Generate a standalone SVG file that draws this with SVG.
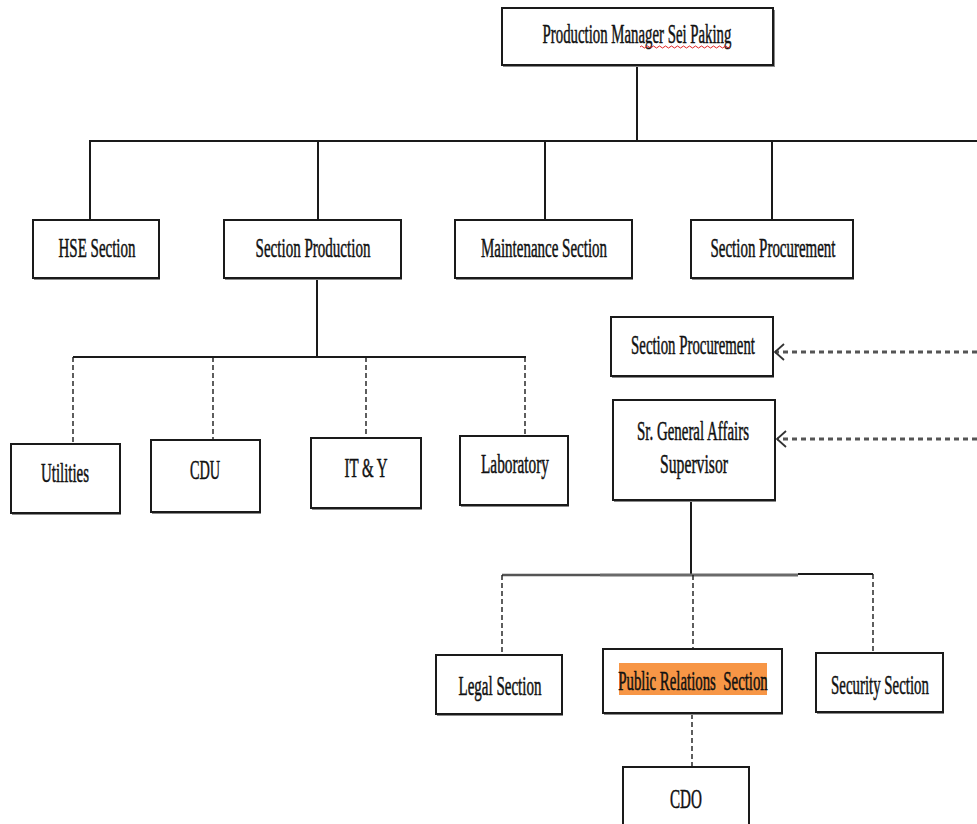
<svg xmlns="http://www.w3.org/2000/svg" width="977" height="824" viewBox="0 0 977 824">
<defs>
<style>
.box{fill:#fff;stroke:#1a1a1a;stroke-width:2}
.shd{fill:#8a8a8a}
.t{font-family:"Liberation Serif","Times New Roman",serif;font-size:27px;fill:#111;text-anchor:middle;stroke:#111;stroke-width:0.5}
.solid{stroke:#1a1a1a;stroke-width:2;fill:none}
.dash{stroke:#1a1a1a;stroke-width:1.4;stroke-dasharray:5,3;fill:none}
.adash{stroke:#555;stroke-width:3;stroke-dasharray:5,4;fill:none}
</style>
<marker id="chev" markerWidth="12" markerHeight="20" refX="10" refY="10" orient="auto" markerUnits="userSpaceOnUse">
<path d="M1,2 L10,10 L1,18" fill="none" stroke="#333" stroke-width="1.8"/>
</marker>
</defs>

<g id="connectors">
<line class="solid" x1="637" y1="65" x2="637" y2="141"/>
<line class="solid" x1="89" y1="141" x2="977" y2="141"/>
<line class="solid" x1="90" y1="141" x2="90" y2="220"/>
<line class="solid" x1="318" y1="141" x2="318" y2="220"/>
<line class="solid" x1="545" y1="141" x2="545" y2="220"/>
<line class="solid" x1="772" y1="141" x2="772" y2="220"/>
<line class="solid" x1="317" y1="278" x2="317" y2="357"/>
<line class="solid" x1="73" y1="357" x2="526" y2="357"/>
<line class="dash" x1="73" y1="357" x2="73" y2="444"/>
<line class="dash" x1="213" y1="357" x2="213" y2="440"/>
<line class="dash" x1="366" y1="357" x2="366" y2="438"/>
<line class="dash" x1="525" y1="357" x2="525" y2="436"/>
<line class="adash" x1="977" y1="352" x2="775" y2="352" marker-end="url(#chev)"/>
<line class="adash" x1="977" y1="439" x2="777" y2="439" marker-end="url(#chev)"/>
<line class="solid" x1="691" y1="500" x2="691" y2="574"/>
<line x1="502" y1="575" x2="600" y2="575" stroke="#555" stroke-width="2.5"/>
<line x1="600" y1="575" x2="798" y2="575" stroke="#6a6a6a" stroke-width="3"/>
<line x1="798" y1="574" x2="873" y2="574" stroke="#1a1a1a" stroke-width="2"/>
<line class="dash" x1="502" y1="575" x2="502" y2="655"/>
<line class="dash" x1="693" y1="575" x2="693" y2="649"/>
<line class="dash" x1="873" y1="574" x2="873" y2="653"/>
<line class="dash" x1="692" y1="714" x2="692" y2="767"/>
</g>

<g id="n-top">
<rect class="shd" x="503" y="10" width="272" height="57"/>
<rect class="box" x="502" y="8" width="271" height="57"/>
<text class="t" transform="translate(637,43) scale(0.549,1)">Production Manager Sei Paking</text>
<path d="M640,47 q1.5,-2 3,0 t3,0 t3,0 t3,0 t3,0 t3,0 t3,0 t3,0 t3,0 t3,0 t3,0 t3,0 t3,0 t3,0 t3,0 t3,0 t3,0 t3,0 t3,0 t3,0 t3,0 t3,0 t3,0 t3,0 t3,0 t3,0 t3,0 t3,0 t3,0 t3,0" fill="none" stroke="#e02020" stroke-width="1"/>
</g>

<g id="n-hse">
<rect class="shd" x="34" y="222" width="126" height="58"/>
<rect class="box" x="33" y="220" width="126" height="58"/>
<text class="t" transform="translate(97,257) scale(0.555,1)">HSE Section</text>
</g>

<g id="n-production">
<rect class="shd" x="225" y="222" width="177" height="58"/>
<rect class="box" x="224" y="220" width="177" height="58"/>
<text class="t" transform="translate(313,257) scale(0.557,1)">Section Production</text>
</g>

<g id="n-maintenance">
<rect class="shd" x="456" y="222" width="177" height="58"/>
<rect class="box" x="455" y="220" width="177" height="58"/>
<text class="t" transform="translate(544,257) scale(0.555,1)">Maintenance Section</text>
</g>

<g id="n-procurement1">
<rect class="shd" x="692" y="222" width="162" height="58"/>
<rect class="box" x="691" y="220" width="162" height="58"/>
<text class="t" transform="translate(773,257) scale(0.554,1)">Section Procurement</text>
</g>

<g id="n-procurement2">
<rect class="shd" x="612" y="319" width="162" height="59"/>
<rect class="box" x="611" y="317" width="162" height="59"/>
<text class="t" transform="translate(693,354) scale(0.549,1)">Section Procurement</text>
</g>

<g id="n-gasupervisor">
<rect class="shd" x="614" y="402" width="162" height="100"/>
<rect class="box" x="613" y="400" width="162" height="100"/>
<text class="t" transform="translate(693,440) scale(0.553,1)">Sr. General Affairs</text>
<text class="t" transform="translate(694,473) scale(0.58,1)">Supervisor</text>
</g>

<g id="n-utilities">
<rect class="shd" x="12" y="446" width="109" height="69"/>
<rect class="box" x="11" y="444" width="109" height="69"/>
<text class="t" transform="translate(65,482) scale(0.552,1)">Utilities</text>
</g>

<g id="n-cdu">
<rect class="shd" x="152" y="442" width="109" height="72"/>
<rect class="box" x="151" y="440" width="109" height="72"/>
<text class="t" transform="translate(205,479) scale(0.53,1)">CDU</text>
</g>

<g id="n-ity">
<rect class="shd" x="312" y="440" width="110" height="70"/>
<rect class="box" x="311" y="438" width="110" height="70"/>
<text class="t" transform="translate(366,477) scale(0.553,1)">IT &amp; Y</text>
</g>

<g id="n-laboratory">
<rect class="shd" x="461" y="438" width="108" height="69"/>
<rect class="box" x="460" y="436" width="108" height="69"/>
<text class="t" transform="translate(515,473) scale(0.567,1)">Laboratory</text>
</g>

<g id="n-legal">
<rect class="shd" x="437" y="657" width="126" height="59"/>
<rect class="box" x="436" y="655" width="126" height="59"/>
<text class="t" transform="translate(500,695) scale(0.556,1)">Legal Section</text>
</g>

<g id="n-pr">
<rect class="shd" x="604" y="651" width="179" height="64"/>
<rect class="box" x="603" y="649" width="179" height="64"/>
<rect x="619" y="663" width="148" height="32" fill="#f79646"/>
<text class="t" transform="translate(693,690) scale(0.55,1)" xml:space="preserve" style="white-space:pre">Public Relations  Section</text>
</g>

<g id="n-security">
<rect class="shd" x="817" y="655" width="127" height="59"/>
<rect class="box" x="816" y="653" width="127" height="59"/>
<text class="t" transform="translate(880,694) scale(0.551,1)">Security Section</text>
</g>

<g id="n-cdo">
<rect class="box" x="623" y="767" width="126" height="70"/>
<text class="t" transform="translate(686,808) scale(0.56,1)">CDO</text>
</g>
</svg>
